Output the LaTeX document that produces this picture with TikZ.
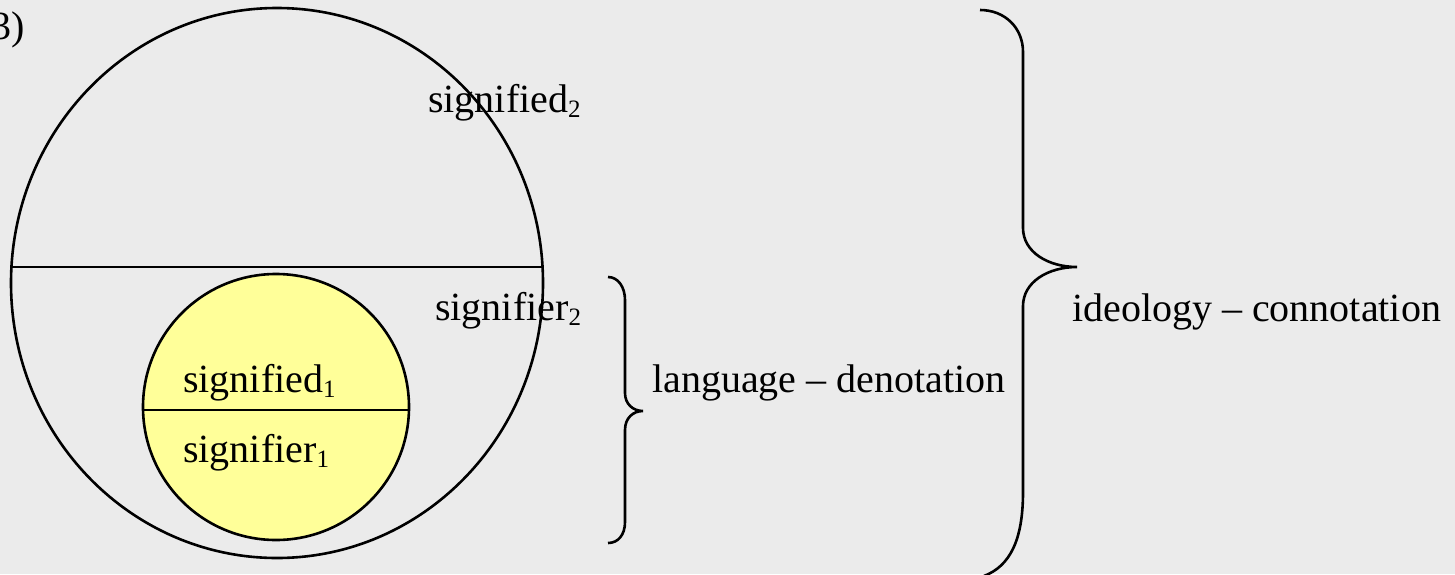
\documentclass[tikz,border=0pt]{standalone}
\usepackage{fontspec}
\setmainfont{Liberation Serif}
\usepackage{xcolor}
\usetikzlibrary{calc}
\definecolor{paper}{HTML}{EBEBEB}
\definecolor{lemon}{HTML}{FFFF99}
\newcommand{\idx}[1]{{\fontsize{25}{25}\selectfont\raisebox{-5pt}{#1}}}

\begin{document}
\begin{tikzpicture}[x=1pt,y=-1pt,
    line/.style={line width=2.6pt,black},
    lbl/.style={inner sep=0pt,anchor=base west,font=\fontsize{40}{48}\selectfont}]
    \fill[paper] (0,0) rectangle (1455,574);
    \useasboundingbox (0,0) rectangle (1455,574);

    % outer sign
    \draw[line] (277,283) ellipse [x radius=266, y radius=275];
    \draw[line] (11.5,267) -- (542.5,267);

    % inner sign
    \filldraw[line,fill=lemon] (276,407) circle [radius=133];
    \draw[line] (143,410) -- (409,410);

    \node[lbl,anchor=base east] (num) at (25,39) {3)};
    \node[lbl] (sd2) at (428,112) {signified\idx{2}};
    \node[lbl] (sr2) at (435,320) {signifier\idx{2}};
    \node[lbl] (sd1) at (183,392) {signified\idx{1}};
    \node[lbl] (sr1) at (183,462) {signifier\idx{1}};

    % braces
    \draw[line] (608,277) .. controls (618,277) and (625,287) .. (625,300)
        -- (625,393) .. controls (625,404) and (633,411) .. (643,411)
        .. controls (633,411) and (625,418) .. (625,430)
        -- (625,522) .. controls (625,535) and (618,543) .. (608,543);
    \node[lbl] (lang) at (652,392) {language -- denotation};

    \draw[line] (980,10) .. controls (1005,10) and (1023,28) .. (1023,52)
        -- (1023,228) .. controls (1023,252) and (1048,267) .. (1077,267)
        .. controls (1048,267) and (1023,282) .. (1023,306)
        -- (1023,492) .. controls (1023,540) and (1010,566) .. (984,576);
    \node[lbl] (ideo) at (1072,321) {ideology -- connotation};
\end{tikzpicture}
\end{document}
